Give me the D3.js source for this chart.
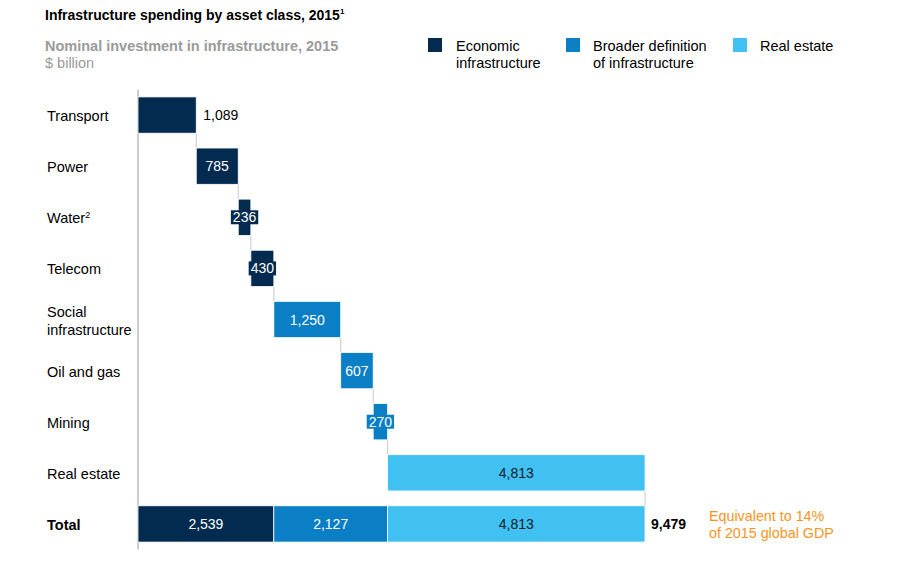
<!DOCTYPE html>
<html>
<head>
<meta charset="utf-8">
<script src="https://cdn.jsdelivr.net/npm/d3@7"></script>
<style>
  body { margin: 0; background: #fff; }
  text { font-family: "Liberation Sans", Arial, sans-serif; }
</style>
</head>
<body>
<div id="container"></div>
<script>
/* DATA */
const categories = ["Transport", "Power", "Water", "Telecom", "Social infrastructure", "Oil and gas", "Mining", "Real estate", "Total"];
const values = [1089, 785, 236, 430, 1250, 607, 270, 4813];
const groups = ["econ", "econ", "econ", "econ", "broad", "broad", "broad", "real"];
const totalGroups = ["econ", "broad", "real"];
const totalValues = [2539, 2127, 4813];
const grandTotal = 9479;
const legendLabels = [["Economic", "infrastructure"], ["Broader definition", "of infrastructure"], ["Real estate"]];

/* CONSTANTS */
const width = 901, height = 566;
const x0 = 138, x1 = 645;
const colors = { econ: "#032b4f", broad: "#0a7fc6", real: "#41c1f2" };
const textColors = { econ: "#fff", broad: "#fff", real: "#0b1a2b" };
const labelSize = 14.5, valueSize = 14;

const svg = d3.select("#container").append("svg")
  .attr("width", width).attr("height", height);

/* SCALES */
const xScale = d3.scaleLinear().domain([0, grandTotal]).range([x0, x1]);
const yScale = d3.scaleBand().domain(categories).range([89.5, 549.5]).paddingInner(0.29).paddingOuter(0.145);

// running start positions for waterfall
let run = 0;
const steps = values.map((v, i) => { const s = { cat: categories[i], start: run, end: run + v, v, g: groups[i] }; run += v; return s; });
let trun = 0;
const totals = totalValues.map((v, i) => { const s = { start: trun, end: trun + v, v, g: totalGroups[i] }; trun += v; return s; });

/* TITLES */
svg.append("text").attr("x", 45).attr("y", 20)
  .attr("font-size", 14).attr("font-weight", "bold").attr("fill", "#000")
  .text("Infrastructure spending by asset class, 2015")
  .append("tspan").attr("font-size", 8).attr("dy", -6).text("1");

svg.append("text").attr("x", 45).attr("y", 51)
  .attr("font-size", labelSize).attr("font-weight", "bold").attr("fill", "#9a9a9a")
  .text("Nominal investment in infrastructure, 2015");
svg.append("text").attr("x", 45).attr("y", 68)
  .attr("font-size", labelSize).attr("fill", "#9a9a9a").text("$ billion");

/* LEGEND */
const legendX = [[428, 456], [566, 593], [733, 760]];
totalGroups.forEach((g, i) => {
  svg.append("rect").attr("x", legendX[i][0]).attr("y", 38).attr("width", 14).attr("height", 14)
    .attr("fill", colors[g]);
  const t = svg.append("text").attr("x", legendX[i][1]).attr("y", 51).attr("font-size", labelSize).attr("fill", "#000");
  legendLabels[i].forEach((l, j) => t.append("tspan").attr("x", legendX[i][1]).attr("dy", j ? 17 : 0).text(l));
});

/* CATEGORY LABELS */
categories.forEach(c => {
  const cy = yScale(c) + yScale.bandwidth() / 2;
  const t = svg.append("text").attr("x", 47).attr("font-size", labelSize).attr("fill", "#000")
    .attr("font-weight", c === "Total" ? "bold" : "normal");
  if (c === "Social infrastructure") {
    t.attr("y", cy - 3);
    t.append("tspan").attr("x", 47).text("Social");
    t.append("tspan").attr("x", 47).attr("dy", 18).text("infrastructure");
  } else {
    t.attr("y", cy + 6).text(c);
    if (c === "Water") t.append("tspan").attr("font-size", 9).attr("dy", -5).text("2");
  }
});

/* CONNECTORS */
const conn = steps.map((s, i) => ({
  x: xScale(s.end),
  y1: yScale(s.cat) + yScale.bandwidth(),
  y2: yScale(categories[i + 1])
}));
svg.append("g").selectAll("line").data(conn).join("line")
  .attr("x1", d => d.x).attr("x2", d => d.x)
  .attr("y1", d => d.y1).attr("y2", d => d.y2)
  .attr("stroke", "#c8c8c8").attr("stroke-width", 1);

/* AXIS LINE */
svg.append("line").attr("x1", x0).attr("x2", x0).attr("y1", 89.5).attr("y2", 549.5)
  .attr("stroke", "#9a9a9a").attr("stroke-width", 1);

/* BARS */
svg.append("g").selectAll("rect").data(steps).join("rect")
  .attr("x", d => xScale(d.start)).attr("y", d => yScale(d.cat))
  .attr("width", d => xScale(d.end) - xScale(d.start)).attr("height", yScale.bandwidth())
  .attr("fill", d => colors[d.g]).attr("stroke", "#fff").attr("stroke-width", 0.8);

svg.append("g").selectAll("rect").data(totals).join("rect")
  .attr("x", d => xScale(d.start)).attr("y", yScale("Total"))
  .attr("width", d => xScale(d.end) - xScale(d.start)).attr("height", yScale.bandwidth())
  .attr("fill", d => colors[d.g]).attr("stroke", "#fff").attr("stroke-width", 0.8);

/* VALUE LABELS */
const fmt = d3.format(",");
steps.forEach((s, i) => {
  const cy = yScale(s.cat) + yScale.bandwidth() / 2;
  if (i === 0) {
    svg.append("text").attr("x", xScale(s.end) + 7).attr("y", cy + 5)
      .attr("font-size", valueSize).attr("fill", "#000").text(fmt(s.v));
    return;
  }
  const cx = (xScale(s.start) + xScale(s.end)) / 2;
  const bg = svg.append("rect").attr("fill", colors[s.g]);
  const t = svg.append("text").attr("x", cx).attr("y", cy + 5).attr("text-anchor", "middle")
    .attr("font-size", valueSize).attr("fill", textColors[s.g]).text(fmt(s.v));
  const w = t.node().getComputedTextLength() + 4;
  bg.attr("x", cx - w / 2).attr("y", cy - 7).attr("width", w).attr("height", 14);
});

totals.forEach(s => {
  const cy = yScale("Total") + yScale.bandwidth() / 2;
  svg.append("text").attr("x", (xScale(s.start) + xScale(s.end)) / 2).attr("y", cy + 5)
    .attr("text-anchor", "middle").attr("font-size", valueSize).attr("fill", textColors[s.g]).text(fmt(s.v));
});

const ty = yScale("Total") + yScale.bandwidth() / 2;
svg.append("text").attr("x", xScale(grandTotal) + 6).attr("y", ty + 5)
  .attr("font-size", valueSize).attr("font-weight", "bold").attr("fill", "#000").text(fmt(grandTotal));

const note = svg.append("text").attr("x", 709).attr("y", ty - 3).attr("font-size", 14.3).attr("fill", "#f7941d");
note.append("tspan").attr("x", 709).text("Equivalent to 14%");
note.append("tspan").attr("x", 709).attr("dy", 17).text("of 2015 global GDP");
</script>
</body>
</html>
